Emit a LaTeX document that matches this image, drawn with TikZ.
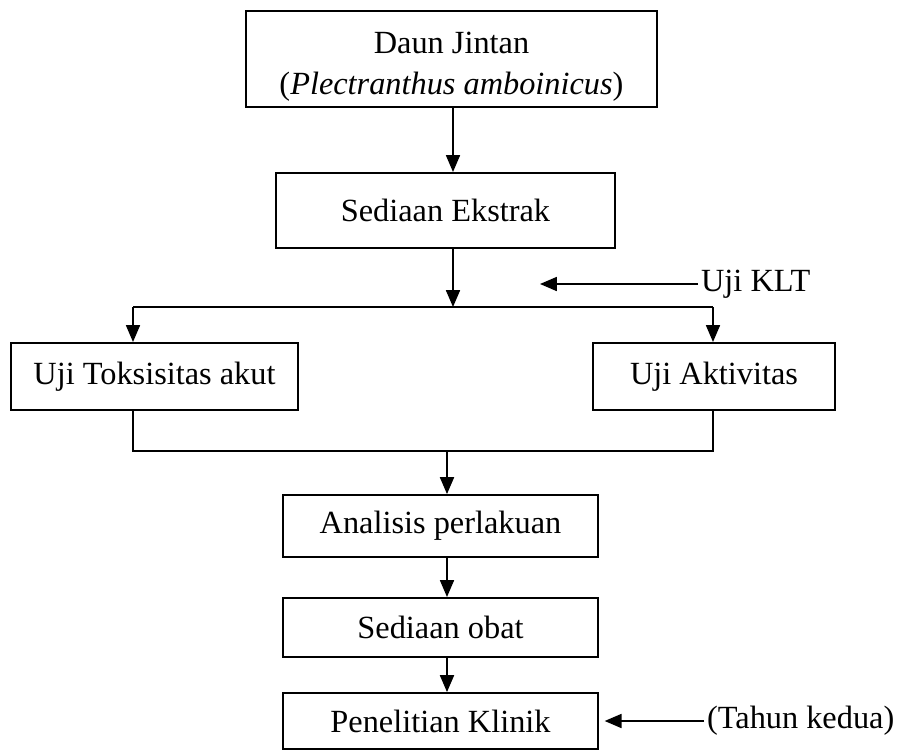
\documentclass[tikz,border=0pt]{standalone}
\usepackage{fontspec}
\setmainfont{Liberation Serif}
\usetikzlibrary{arrows.meta}
\tikzset{
  flowbox/.style={draw, line width=1.3pt, inner sep=0pt, align=center},
  flowline/.style={line width=1.1pt},
  flowarrow/.style={flowline, -{Triangle[length=12pt,width=10pt]}},
  sidelabel/.style={inner sep=2pt, anchor=west}
}
\begin{document}
\begin{tikzpicture}[x=0.025cm, y=-0.025cm, font=\fontsize{23}{29}\selectfont]
    \useasboundingbox (0,0) rectangle (903,751);
    %% branch points
    \coordinate (split) at (453,307);
    \coordinate (splitleft) at (133,307);
    \coordinate (splitright) at (713,307);
    \coordinate (join) at (447,451);
    \coordinate (joinleft) at (133,451);
    \coordinate (joinright) at (713,451);
    \coordinate (kltend) at (540,284);
    %% boxes
    \node[flowbox, minimum width=10.28cm, minimum height=2.4cm] (daun) at (451.5,59) {\rule{0pt}{26.5pt}Daun Jintan\\(\textit{Plectranthus amboinicus})};
    \node[flowbox, minimum width=8.48cm, minimum height=1.88cm] (ekstrak) at (445.5,210.5) {Sediaan Ekstrak};
    \node[flowbox, minimum width=7.18cm, minimum height=1.68cm] (toksisitas) at (154.5,376.5) {Uji Toksisitas akut};
    \node[flowbox, minimum width=6.05cm, minimum height=1.68cm] (aktivitas) at (714,376.5) {Uji Aktivitas};
    \node[flowbox, minimum width=7.88cm, minimum height=1.55cm] (analisis) at (440.5,526) {Analisis perlakuan};
    \node[flowbox, minimum width=7.88cm, minimum height=1.48cm] (obat) at (440.5,627.5) {Sediaan obat};
    \node[flowbox, minimum width=7.88cm, minimum height=1.4cm] (klinik) at (440.5,721) {Penelitian Klinik};
    %% side labels
    \node[sidelabel] (klt) at (698,284) {Uji KLT};
    \node[sidelabel] (tahun) at (704,721) {(Tahun kedua)};
    %% connectors
    \draw[flowarrow] (daun.south -| split) -- (ekstrak.north -| split);
    \draw[flowarrow] (ekstrak.south -| split) -- (split);
    \draw[flowline] (splitleft) -- (splitright);
    \draw[flowarrow] (splitleft) -- (toksisitas.north -| splitleft);
    \draw[flowarrow] (splitright) -- (aktivitas.north -| splitright);
    \draw[flowarrow] (klt.west) -- (kltend);
    \draw[flowline] (toksisitas.south -| joinleft) -- (joinleft) -- (joinright) -- (aktivitas.south -| joinright);
    \draw[flowarrow] (join) -- (analisis.north -| join);
    \draw[flowarrow] (analisis.south -| join) -- (obat.north -| join);
    \draw[flowarrow] (obat.south -| join) -- (klinik.north -| join);
    \draw[flowarrow, shorten >=4pt] (tahun.west) -- (klinik.east);
\end{tikzpicture}
\end{document}
